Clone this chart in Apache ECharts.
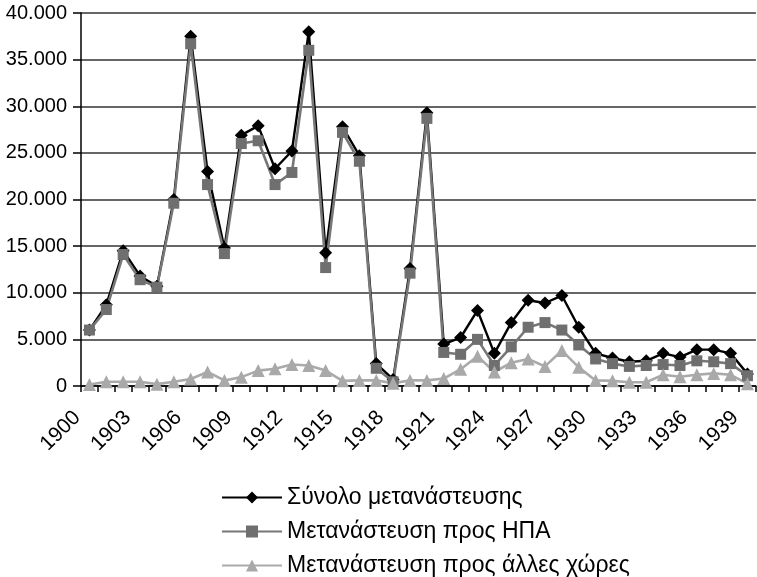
<!DOCTYPE html>
<html>
<head>
<meta charset="utf-8">
<script src="https://cdn.jsdelivr.net/npm/echarts@6/dist/echarts.min.js"></script>
<style>
  html, body { margin: 0; padding: 0; background: #fff; }
  #chart { width: 757px; height: 577px; }
</style>
</head>
<body>
<div id="chart"></div>
<script>
// χρόνια 1900-1939
const years = []
for (let y = 1900; y <= 1939; y++) years.push(String(y))

const seriesNames = ['Σύνολο μετανάστευσης', 'Μετανάστευση προς ΗΠΑ', 'Μετανάστευση προς άλλες χώρες']

const total = [6000, 8700, 14500, 11800, 10700, 20000, 37500, 23000, 14800, 26900,
  27900, 23300, 25200, 38000, 14300, 27800, 24700, 2400, 700, 12600,
  29300, 4500, 5200, 8100, 3500, 6800, 9200, 8900, 9700, 6300,
  3500, 3000, 2600, 2700, 3500, 3100, 3900, 3900, 3500, 1300]

const usa = [6000, 8200, 14100, 11400, 10600, 19600, 36700, 21600, 14200, 26000,
  26300, 21600, 22900, 36000, 12700, 27200, 24100, 1900, 450, 12100,
  28700, 3600, 3400, 5000, 2200, 4200, 6300, 6800, 6000, 4400,
  2900, 2400, 2100, 2200, 2300, 2200, 2700, 2600, 2400, 1100]

const other = [150, 450, 450, 450, 200, 450, 750, 1500, 600, 950,
  1650, 1850, 2300, 2200, 1650, 550, 600, 600, 300, 600,
  600, 800, 1800, 3200, 1500, 2500, 2900, 2100, 3800, 2000,
  600, 550, 400, 400, 1200, 1000, 1200, 1350, 1200, 250]

const yTicks = [0, 5000, 10000, 15000, 20000, 25000, 30000, 35000, 40000]

const chart = echarts.init(document.getElementById('chart'))
const font = 'Liberation Sans, Arial, sans-serif'

const options = {
  animation: false,
  backgroundColor: '#fff',
  grid: { left: 81, right: 0, top: 13, bottom: 191 },
  legend: {
    orient: 'vertical',
    left: 216,
    top: 481,
    height: 100,
    itemWidth: 60,
    itemHeight: 15,
    itemGap: 11,
    textStyle: { fontFamily: font, fontSize: 23, color: '#000' },
    data: seriesNames
  },
  xAxis: {
    type: 'category',
    data: years,
    boundaryGap: true,
    axisLine: { lineStyle: { color: '#000', width: 1.5 } },
    axisTick: { show: true, interval: 0, length: 6, lineStyle: { color: '#000', width: 1.5 } },
    axisLabel: {
      interval: 2,
      rotate: 45,
      margin: 16,
      color: '#000',
      fontFamily: font,
      fontSize: 21,
      // κενά στο τέλος για να κατέβει η ετικέτα λίγο πιο αριστερά
      formatter: v => v + '   '
    }
  },
  yAxis: {
    type: 'value',
    min: yTicks[0],
    max: yTicks[yTicks.length - 1],
    interval: 5000,
    axisLine: { show: true, lineStyle: { color: '#000', width: 1.5 } },
    axisTick: { show: true, length: 8, lineStyle: { color: '#000', width: 1.5 } },
    splitLine: { lineStyle: { color: '#333', width: 1.5 } },
    axisLabel: {
      margin: 14,
      color: '#000',
      fontFamily: font,
      fontSize: 20,
      formatter: v => String(v).replace(/\B(?=(\d{3})+(?!\d))/g, '.')
    }
  },
  series: [
    {
      name: seriesNames[0],
      type: 'line',
      data: total,
      showAllSymbol: true,
      symbol: 'diamond',
      symbolSize: 13,
      itemStyle: { color: '#000' },
      lineStyle: { color: '#000', width: 2.4 }
    },
    {
      name: seriesNames[1],
      type: 'line',
      data: usa,
      showAllSymbol: true,
      symbol: 'rect',
      symbolSize: 11,
      itemStyle: { color: '#6f6f6f' },
      lineStyle: { color: '#777', width: 2.6 }
    },
    {
      name: seriesNames[2],
      type: 'line',
      data: other,
      showAllSymbol: true,
      symbol: 'triangle',
      symbolSize: 13,
      itemStyle: { color: '#a9a9a9' },
      lineStyle: { color: '#aaa', width: 2.6 }
    }
  ]
}

chart.setOption(options)
</script>
</body>
</html>
